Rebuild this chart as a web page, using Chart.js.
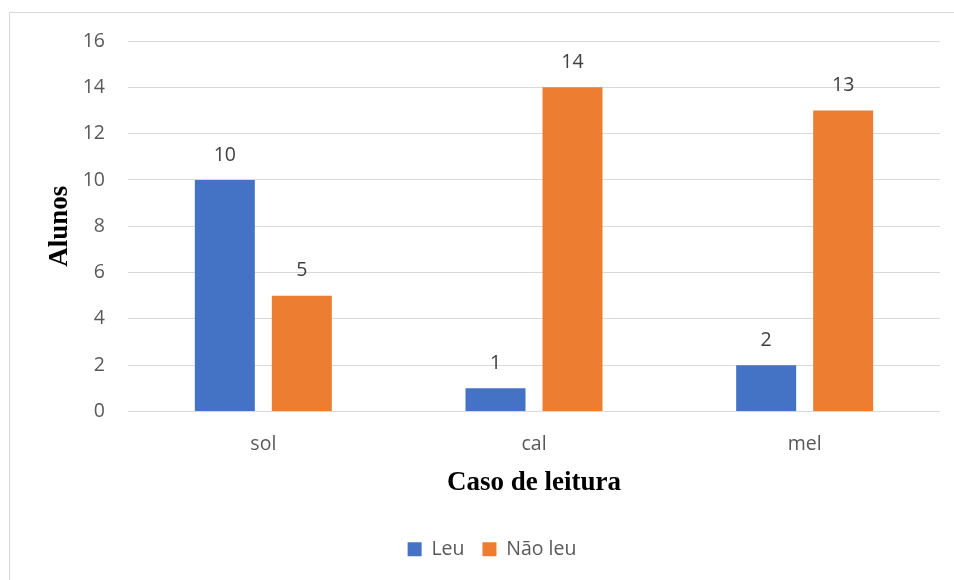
<!DOCTYPE html>
<html>
<head>
<meta charset="utf-8">
<script src="https://cdn.jsdelivr.net/npm/chart.js@4/dist/chart.umd.min.js"></script>
<style>
html,body{margin:0;padding:0;background:#fff;}
#wrap{position:relative;width:954px;height:580px;}
</style>
</head>
<body>
<div id="wrap"><canvas id="c" width="954" height="580"></canvas></div>
<script>
const categories = ["sol", "cal", "mel"];
const leuValues = [10, 1, 2];
const naoLeuValues = [5, 14, 13];
const seriesNames = ["Leu", "Não leu"];
const yTicks = [0, 2, 4, 6, 8, 10, 12, 14, 16];

const tickFont = { family: "'Open Sans', 'Noto Sans', sans-serif", size: 19.5 };
const titleFont = { family: "'Liberation Serif', 'Times New Roman', serif", size: 27, weight: 'bold' };

const frame = {
  id: 'frame',
  beforeDraw(chart) {
    const ctx = chart.ctx;
    ctx.save();
    ctx.strokeStyle = '#d9d9d9';
    ctx.lineWidth = 1;
    ctx.strokeRect(9.5, 12.5, 1000, 1000);
    ctx.restore();
  }
};

const valueLabels = {
  id: 'valueLabels',
  afterDatasetsDraw(chart) {
    const ctx = chart.ctx;
    ctx.save();
    ctx.font = tickFont.size + 'px ' + tickFont.family;
    ctx.fillStyle = '#404040';
    ctx.textAlign = 'center';
    ctx.textBaseline = 'middle';
    chart.data.datasets.forEach((ds, i) => {
      chart.getDatasetMeta(i).data.forEach((bar, j) => {
        ctx.fillText(String(ds.data[j]), bar.x, bar.y - 25);
      });
    });
    ctx.restore();
  }
};

new Chart(document.getElementById('c'), {
  type: 'bar',
  data: {
    labels: categories,
    datasets: [
      { label: seriesNames[0], data: leuValues, backgroundColor: '#4472C4' },
      { label: seriesNames[1], data: naoLeuValues, backgroundColor: '#ED7D31' }
    ]
  },
  options: {
    responsive: false,
    animation: false,
    devicePixelRatio: 1,
    layout: { padding: { left: 44, right: 14, top: 41, bottom: 11 } },
    datasets: { bar: { categoryPercentage: 0.569, barPercentage: 0.779 } },
    scales: {
      x: {
        grid: { display: false, drawTicks: false },
        border: { display: false },
        ticks: { font: tickFont, color: '#595959', padding: 21 },
        title: { display: true, text: 'Caso de leitura', font: titleFont, color: '#000', padding: { top: 0, bottom: 22 } },
        afterFit(scale) { scale.height = 110; }
      },
      y: {
        min: 0, max: 16,
        afterBuildTicks(scale) { scale.ticks = yTicks.map(v => ({ value: v })); },
        grid: { color: '#d9d9d9', lineWidth: 1, drawTicks: false },
        border: { display: false },
        ticks: { font: tickFont, color: '#595959', padding: 23 },
        title: { display: true, text: 'Alunos', font: titleFont, color: '#000', padding: 0 },
        afterFit(scale) { scale.width = 84; }
      }
    },
    plugins: {
      legend: {
        position: 'bottom',
        labels: { font: { family: tickFont.family, size: 19.5 }, color: '#595959', boxWidth: 14, boxHeight: 14, padding: 18 }
      },
      tooltip: { enabled: false }
    }
  },
  plugins: [frame, valueLabels]
});
</script>
</body>
</html>
